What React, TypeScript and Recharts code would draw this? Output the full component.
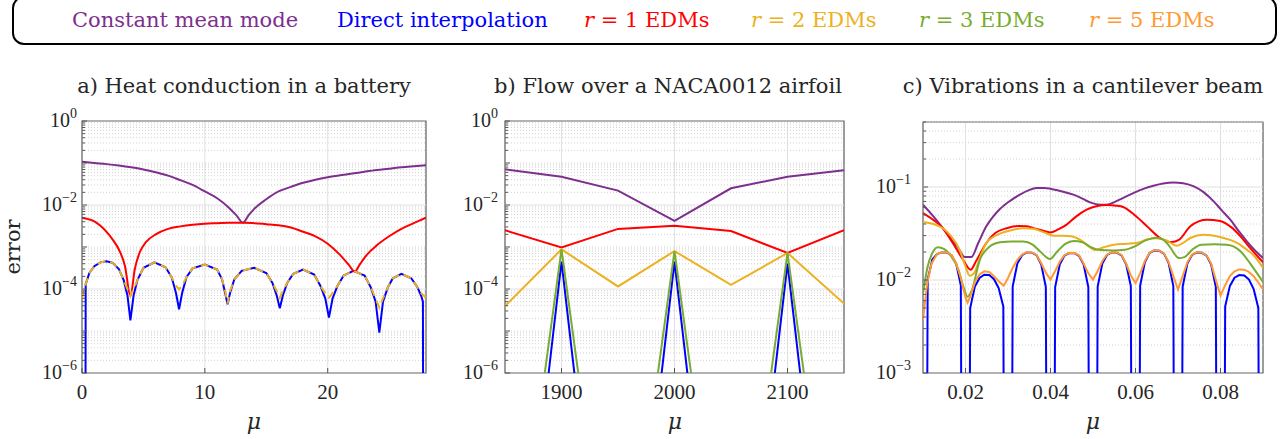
import React from 'react';
import {
  CartesianGrid,
  Line,
  LineChart,
  ReferenceArea,
  ReferenceLine,
  XAxis,
  YAxis,
} from 'recharts';

type Pt = [number, number];

// colours (MATLAB-ish palette)
const C_CONST = '#7E2F8E';
const C_DIRECT = '#0000FF';
const C_R1 = '#FF0000';
const C_R2 = '#EDB120';
const C_R3 = '#77AC30';
const C_R5 = '#FF9933';
const INK = '#262626';
const TICK_FONT = "'Liberation Serif', 'Times New Roman', serif";
const TEXT_FONT = "'DejaVu Serif', 'Liberation Serif', serif";

// ---------- a) heat conduction in a battery ----------
const batteryTicksX = [0, 10, 20];
const batteryTicksY = [1e-6, 1e-4, 1e-2, 1];

const batteryConstMean: Pt[] = [
  [0, 0.107], [1, 0.1], [2, 0.094], [3, 0.087], [4, 0.079], [5, 0.07], [6, 0.06], [7, 0.05],
  [8, 0.039], [9, 0.03], [10, 0.021], [11, 0.0145], [12, 0.0084], [12.6, 0.0055], [13.1, 0.0038],
  [13.6, 0.0059], [14, 0.008], [15, 0.0137], [16, 0.021], [17, 0.027], [18, 0.034], [19, 0.04],
  [20, 0.046], [21, 0.051], [22, 0.056], [23, 0.062], [24, 0.068], [25, 0.073], [26, 0.079],
  [27, 0.084], [28, 0.089],
];

const batteryR1: Pt[] = [
  [0, 0.005], [0.5, 0.0046], [1, 0.0041], [1.5, 0.0032], [2, 0.0023], [2.5, 0.0015], [3, 0.00087],
  [3.5, 0.00035], [3.94, 0.000068], [4.3, 0.0003], [4.7, 0.00075], [5.2, 0.0013], [6, 0.002],
  [7, 0.0027], [8, 0.0031], [9, 0.0034], [10, 0.0036], [11, 0.0037], [12, 0.0038], [13.1, 0.0038],
  [14, 0.0037], [15, 0.0035], [16, 0.0033], [17, 0.0029], [18, 0.0023], [19, 0.0018], [20, 0.0012],
  [21, 0.00065], [21.7, 0.00038], [22.2, 0.00026], [22.6, 0.00038], [23.2, 0.00066], [24, 0.0011],
  [25, 0.0018], [26, 0.0027], [27, 0.0037], [28, 0.005],
];

const batteryDirect: Pt[] = [
  [0, 1e-12], [0.26, 1e-12], [0.3, 0.00013], [0.6, 0.00024], [1, 0.00035], [1.5, 0.00043],
  [2, 0.00046], [2.5, 0.00042], [3, 0.0003], [3.4, 0.00016], [3.7, 0.00007], [3.94, 0.000018],
  [4.2, 0.00007], [4.5, 0.00016], [5, 0.00032], [5.9, 0.00043], [6.8, 0.00033], [7.3, 0.00019],
  [7.65, 0.00008], [7.9, 0.000033], [8.15, 0.00008], [8.5, 0.00019], [9, 0.00031], [10, 0.00038],
  [11, 0.00029], [11.4, 0.00017], [11.65, 0.00008], [11.85, 0.000043], [12.05, 0.00008],
  [12.4, 0.00017], [13, 0.00027], [14, 0.00032], [15, 0.00024], [15.5, 0.00014], [15.85, 0.00007],
  [16.1, 0.000035], [16.35, 0.00007], [16.7, 0.00014], [17.2, 0.00023], [18, 0.00029],
  [18.9, 0.00022], [19.4, 0.00012], [19.8, 0.00006], [20.1, 0.000021], [20.4, 0.00006],
  [20.8, 0.00012], [21.3, 0.00021], [22.1, 0.00027], [23, 0.00021], [23.5, 0.00011],
  [23.9, 0.00005], [24.2, 0.0000092], [24.5, 0.00005], [24.9, 0.00011], [25.3, 0.00018],
  [26, 0.00023], [26.8, 0.00018], [27.3, 0.00011], [27.6, 0.00007], [27.75, 0.00005],
  [27.8, 1e-12], [28, 1e-12],
];

const batteryR2: Pt[] = [
  [0, 0.00006], [0.3, 0.00013], [0.6, 0.00024], [1, 0.00035], [1.5, 0.00043], [2, 0.00046],
  [2.5, 0.00042], [3, 0.0003], [3.4, 0.00016], [3.7, 0.0001], [3.94, 0.000068], [4.2, 0.0001],
  [4.5, 0.00016], [5, 0.00032], [5.9, 0.00043], [6.8, 0.00033], [7.3, 0.00019], [7.65, 0.00012],
  [7.9, 0.000098], [8.15, 0.00012], [8.5, 0.00019], [9, 0.00031], [10, 0.00038], [11, 0.00029],
  [11.4, 0.00017], [11.65, 0.00009], [11.85, 0.000045], [12.05, 0.00009], [12.4, 0.00017],
  [13, 0.00027], [14, 0.00032], [15, 0.00024], [15.5, 0.00014], [15.85, 0.00009], [16.1, 0.000062],
  [16.35, 0.00009], [16.7, 0.00014], [17.2, 0.00023], [18, 0.00029], [18.9, 0.00022],
  [19.4, 0.00012], [19.8, 0.00008], [20.1, 0.000062], [20.4, 0.00008], [20.8, 0.00012],
  [21.3, 0.00021], [22.1, 0.00027], [23, 0.00021], [23.5, 0.00011], [23.9, 0.00006],
  [24.2, 0.000036], [24.5, 0.00006], [24.9, 0.00011], [25.3, 0.00018], [26, 0.00023],
  [26.8, 0.00018], [27.3, 0.00011], [27.6, 0.00008], [28, 0.000062],
];

// ---------- b) flow over a NACA0012 airfoil ----------
const airfoilTicksX = [1900, 2000, 2100];
const airfoilTicksY = [1e-6, 1e-4, 1e-2, 1];
const airfoilMu = [1850, 1900, 1950, 2000, 2050, 2100, 2150];
const airfoilConstMean = [0.071, 0.047, 0.022, 0.0042, 0.025, 0.047, 0.067];
const airfoilDirect = [1e-15, 4.5e-4, 1e-15, 4.5e-4, 1e-15, 4e-4, 1e-15];
const airfoilR1 = [0.0025, 0.00098, 0.0027, 0.0032, 0.0024, 0.00072, 0.0025];
const airfoilR2 = [0.000039, 0.00088, 0.000115, 0.0008, 0.000125, 0.00072, 0.000045];
const airfoilR3 = [1e-13, 0.00088, 1e-13, 0.0008, 1e-13, 0.00072, 1e-13];

// ---------- c) vibrations in a cantilever beam ----------
const beamTicksX = [0.02, 0.04, 0.06, 0.08];
const beamTicksY = [1e-3, 1e-2, 1e-1];

const beamConstMean: Pt[] = [
  [0.01, 0.0645], [0.0125, 0.048], [0.0147, 0.036], [0.0165, 0.028], [0.0183, 0.022],
  [0.0198, 0.0177], [0.0214, 0.0177], [0.023, 0.025], [0.0249, 0.0378], [0.0265, 0.048],
  [0.0281, 0.058], [0.0305, 0.071], [0.0328, 0.0827], [0.0348, 0.092], [0.0367, 0.0975],
  [0.0385, 0.0975], [0.0399, 0.096], [0.0425, 0.09], [0.0454, 0.0827], [0.0475, 0.075],
  [0.0493, 0.0684], [0.0517, 0.0645], [0.053, 0.0645], [0.0548, 0.068], [0.057, 0.076],
  [0.0595, 0.086], [0.062, 0.096], [0.0642, 0.103], [0.0665, 0.109], [0.0689, 0.112],
  [0.0712, 0.11], [0.0736, 0.102], [0.076, 0.088], [0.0784, 0.07], [0.0803, 0.056],
  [0.0823, 0.0445], [0.0842, 0.034], [0.0862, 0.026], [0.088, 0.021], [0.09, 0.0172],
];

const beamDirect: Pt[] = [
  [0.01, 1e-15],
  [0.0111, 0.0101], [0.0122, 0.0166], [0.0133, 0.019], [0.0144, 0.0198], [0.0156, 0.0197],
  [0.0167, 0.0185], [0.0178, 0.015], [0.0189, 0.0088],
  [0.02, 1e-15],
  [0.0211, 0.005], [0.0222, 0.0085], [0.0233, 0.0105], [0.0244, 0.0114], [0.0256, 0.0113],
  [0.0267, 0.0102], [0.0278, 0.0082], [0.0289, 0.0052],
  [0.03, 1e-15],
  [0.0311, 0.0085], [0.0322, 0.015], [0.0333, 0.0185], [0.0344, 0.0198], [0.0356, 0.0197],
  [0.0367, 0.0185], [0.0378, 0.0148], [0.0389, 0.0084],
  [0.04, 1e-15],
  [0.0411, 0.0084], [0.0422, 0.0148], [0.0433, 0.0183], [0.0444, 0.0195], [0.0456, 0.0194],
  [0.0467, 0.0182], [0.0478, 0.0147], [0.0489, 0.0084],
  [0.05, 1e-15],
  [0.0511, 0.0085], [0.0522, 0.015], [0.0533, 0.0186], [0.0544, 0.0198], [0.0556, 0.0197],
  [0.0567, 0.0184], [0.0578, 0.0148], [0.0589, 0.0086],
  [0.06, 1e-15],
  [0.0611, 0.0087], [0.0622, 0.0155], [0.0633, 0.0195], [0.0644, 0.0208], [0.0656, 0.0206],
  [0.0667, 0.0192], [0.0678, 0.0152], [0.0689, 0.0086],
  [0.07, 1e-15],
  [0.0711, 0.0085], [0.0722, 0.015], [0.0733, 0.0186], [0.0744, 0.0198], [0.0756, 0.0196],
  [0.0767, 0.0183], [0.0778, 0.0147], [0.0789, 0.0084],
  [0.08, 1e-15],
  [0.0811, 0.0052], [0.0822, 0.0086], [0.0833, 0.0106], [0.0844, 0.0113], [0.0856, 0.0112],
  [0.0867, 0.0101], [0.0878, 0.008], [0.0889, 0.005],
  [0.09, 1e-15],
];

const beamR1: Pt[] = [
  [0.01, 0.0525], [0.0125, 0.044], [0.0147, 0.036], [0.017, 0.025], [0.0194, 0.0166],
  [0.0212, 0.0129], [0.0225, 0.016], [0.0249, 0.025], [0.027, 0.032], [0.0297, 0.036],
  [0.0325, 0.038], [0.0344, 0.0378], [0.0365, 0.0355], [0.0381, 0.034], [0.0399, 0.0325],
  [0.0418, 0.035], [0.0438, 0.0394], [0.046, 0.048], [0.0485, 0.057], [0.051, 0.0625],
  [0.0532, 0.064], [0.0555, 0.063], [0.0571, 0.061], [0.06, 0.049], [0.0627, 0.0378],
  [0.0658, 0.0283], [0.0685, 0.0256], [0.0702, 0.027], [0.0729, 0.0378], [0.075, 0.043],
  [0.0768, 0.0445], [0.0799, 0.043], [0.0825, 0.037], [0.0847, 0.0295], [0.087, 0.022],
  [0.09, 0.0155],
];

const beamR2: Pt[] = [
  [0.01, 0.042], [0.0125, 0.04], [0.0147, 0.036], [0.0165, 0.03], [0.0186, 0.0212],
  [0.02, 0.014], [0.021, 0.0111], [0.022, 0.0118], [0.0235, 0.018], [0.0249, 0.025],
  [0.0265, 0.029], [0.0281, 0.0315], [0.031, 0.0345], [0.0336, 0.036], [0.036, 0.0355],
  [0.0385, 0.0325], [0.0407, 0.03], [0.043, 0.03], [0.0449, 0.0296], [0.047, 0.027],
  [0.049, 0.023], [0.0505, 0.021], [0.0525, 0.0225], [0.055, 0.024], [0.058, 0.0245],
  [0.0605, 0.0252], [0.0627, 0.0272], [0.065, 0.0282], [0.0672, 0.0268], [0.0697, 0.0234],
  [0.0712, 0.025], [0.0729, 0.0283], [0.076, 0.0307], [0.0799, 0.029], [0.0839, 0.025],
  [0.086, 0.0215], [0.088, 0.018], [0.09, 0.0135],
];

const beamR3: Pt[] = [
  [0.01, 0.0072], [0.0111, 0.014], [0.0122, 0.0195], [0.0135, 0.0225], [0.015, 0.0215],
  [0.0167, 0.0178], [0.0183, 0.013], [0.0195, 0.0085], [0.0205, 0.0066], [0.0215, 0.0078],
  [0.0234, 0.0166], [0.0255, 0.0225], [0.0281, 0.0254], [0.031, 0.026], [0.0336, 0.026],
  [0.0358, 0.024], [0.0375, 0.0204], [0.0399, 0.0168], [0.0415, 0.02], [0.0435, 0.0245],
  [0.0455, 0.0262], [0.0475, 0.0255], [0.0495, 0.0225], [0.0517, 0.021], [0.0548, 0.0208],
  [0.0575, 0.0212], [0.06, 0.0232], [0.0625, 0.0268], [0.0648, 0.0285], [0.0665, 0.0272],
  [0.068, 0.023], [0.0702, 0.0172], [0.0715, 0.0176], [0.0735, 0.0215], [0.0755, 0.024],
  [0.0785, 0.0243], [0.0815, 0.024], [0.0847, 0.0204], [0.087, 0.015], [0.09, 0.0095],
];

const beamR5: Pt[] = [
  [0.01, 0.0037], [0.011, 0.0093], [0.012, 0.015], [0.0133, 0.019], [0.0144, 0.0199],
  [0.0156, 0.0198], [0.0167, 0.0186], [0.0178, 0.0152], [0.0189, 0.0105], [0.02, 0.0065],
  [0.0205, 0.0057], [0.0211, 0.0066], [0.0222, 0.0095], [0.0233, 0.0115], [0.0244, 0.0124],
  [0.0256, 0.0122], [0.0267, 0.011], [0.0278, 0.0097], [0.029, 0.0087], [0.03, 0.0105],
  [0.0311, 0.0135], [0.0322, 0.0165], [0.0333, 0.0188], [0.0344, 0.0199], [0.0356, 0.0198],
  [0.0367, 0.0186], [0.0378, 0.0152], [0.0389, 0.012], [0.04, 0.0101], [0.0411, 0.0125],
  [0.0422, 0.0158], [0.0433, 0.0185], [0.0444, 0.0196], [0.0456, 0.0195], [0.0467, 0.0184],
  [0.0478, 0.015], [0.0489, 0.0118], [0.05, 0.0101], [0.0511, 0.0125], [0.0522, 0.016],
  [0.0533, 0.0188], [0.0544, 0.0199], [0.0556, 0.0198], [0.0567, 0.0186], [0.0578, 0.015],
  [0.0589, 0.0112], [0.06, 0.0093], [0.0611, 0.0118], [0.0622, 0.016], [0.0633, 0.0196],
  [0.0644, 0.0209], [0.0656, 0.0207], [0.0667, 0.0193], [0.0678, 0.0155], [0.0689, 0.011],
  [0.07, 0.0079], [0.0711, 0.011], [0.0722, 0.0155], [0.0733, 0.0188], [0.0744, 0.0199],
  [0.0756, 0.0197], [0.0767, 0.0184], [0.0778, 0.015], [0.0789, 0.01], [0.08, 0.0068],
  [0.0811, 0.0088], [0.0822, 0.011], [0.0833, 0.0124], [0.0844, 0.013], [0.0856, 0.0129],
  [0.0867, 0.0122], [0.0878, 0.011], [0.0889, 0.0094], [0.09, 0.0079],
];

const legendItems = [
  { label: 'Constant mean mode', color: C_CONST, x: 72 },
  { label: 'Direct interpolation', color: C_DIRECT, x: 337 },
  { label: '1', color: C_R1, x: 584 },
  { label: '2', color: C_R2, x: 751 },
  { label: '3', color: C_R3, x: 919 },
  { label: '5', color: C_R5, x: 1089 },
];

const toPts = (arr: Pt[]) => arr.map(([x, y]) => ({ x, y }));

const isDecade = (v: number) => Math.abs(Math.log10(v) - Math.round(Math.log10(v))) < 1e-9;

// minor log grid: 2..9 of every decade, plus decades that carry no label
const minorLog = (lo: number, hi: number, majors: number[], top: number) => {
  const out: number[] = [];
  for (let e = lo; e < hi; e++) {
    const d = Math.pow(10, e);
    if (e > lo && !majors.some((m) => Math.abs(m - d) / d < 1e-9)) out.push(d);
    for (let k = 2; k <= 9; k++) if (k * d <= top * 1.0001) out.push(k * d);
  }
  return out;
};

const allLogTicks = (majors: number[], minors: number[]) => [...majors, ...minors].sort((a, b) => a - b);

const makeYTick = (labels: number[], side: 'left' | 'right', gap = 5) => (props: any) => {
  const { x, y, payload } = props;
  const v = payload.value;
  const labelled = labels.some((m) => Math.abs(m - v) / v < 1e-9);
  const len = isDecade(v) ? 5 : 3;
  const dir = side === 'left' ? 1 : -1;
  const e = Math.round(Math.log10(v));
  const exp = e < 0 ? `\u2212${-e}` : `${e}`;
  return (
    <g>
      <line x1={x} x2={x + dir * len} y1={y} y2={y} stroke="#555" strokeWidth={1} />
      {side === 'left' && labelled && (
        <text x={x - gap} y={y + 6} textAnchor="end" style={{ fontFamily: TICK_FONT }} fill={INK}>
          <tspan fontSize={20}>10</tspan>
          <tspan fontSize={14} dy={-9}>{exp}</tspan>
        </text>
      )}
    </g>
  );
};

const makeXTick = (side: 'bottom' | 'top') => (props: any) => {
  const { x, y, payload } = props;
  const dir = side === 'bottom' ? -1 : 1;
  return (
    <g>
      <line x1={x} x2={x} y1={y} y2={y + dir * 5} stroke="#555" strokeWidth={1} />
      {side === 'bottom' && (
        <text x={x} y={y + 26} textAnchor="middle" style={{ fontFamily: TICK_FONT }} fontSize={21} fill={INK}>
          {payload.value}
        </text>
      )}
    </g>
  );
};

const gridLines = (major: number[], minor: number[]) => [
  ...minor.map((v) => (
    <ReferenceLine key={`m${v}`} y={v} stroke="#d2d2d2" strokeDasharray="1 2" strokeWidth={1} />
  )),
  ...major.map((v) => <ReferenceLine key={`M${v}`} y={v} stroke="#e0e0e0" strokeWidth={1} />),
];

const axisProps = { axisLine: false, tickLine: false, tickSize: 0, tickMargin: 0, interval: 0 as const };

const batteryMinor = minorLog(-6, 0, batteryTicksY, 1);
const airfoilMinor = minorLog(-6, 0, airfoilTicksY, 1);
const beamMinor = minorLog(-3, 0, beamTicksY, 0.5);

export default function App() {
  const airfoilRows = airfoilMu.map((mu, i) => ({
    mu,
    constMean: airfoilConstMean[i],
    direct: airfoilDirect[i],
    r1: airfoilR1[i],
    r2: airfoilR2[i],
    r3: airfoilR3[i],
  }));

  return (
    <div style={{ position: 'absolute', left: 0, top: 0, width: 1286, height: 439, background: '#fff' }}>
      {/* a) */}
      <div style={{ position: 'absolute', left: 0, top: 100 }}>
        <LineChart width={440} height={339} margin={{ top: 21, right: 14, bottom: 0, left: 0 }}>
          <CartesianGrid stroke="#e0e0e0" horizontal={false} />
          <XAxis type="number" dataKey="x" domain={[0, 28]} ticks={batteryTicksX} allowDataOverflow height={66} tick={makeXTick('bottom')} {...axisProps} />
          <XAxis xAxisId="top" orientation="top" type="number" domain={[0, 28]} ticks={batteryTicksX} height={0} tick={makeXTick('top')} {...axisProps} />
          <YAxis scale="log" domain={[1e-6, 1]} ticks={allLogTicks(batteryTicksY, batteryMinor)} allowDataOverflow width={82} tick={makeYTick(batteryTicksY, 'left', 5)} {...axisProps} />
          <YAxis yAxisId="right" orientation="right" scale="log" domain={[1e-6, 1]} ticks={allLogTicks(batteryTicksY, batteryMinor)} width={0} tick={makeYTick(batteryTicksY, 'right')} {...axisProps} />
          {gridLines(batteryTicksY.slice(1, -1), batteryMinor)}
          <Line data={toPts(batteryConstMean)} dataKey="y" type="monotone" stroke={C_CONST} strokeWidth={2} dot={false} isAnimationActive={false} />
          <Line data={toPts(batteryDirect)} dataKey="y" type="linear" stroke={C_DIRECT} strokeWidth={2} dot={false} isAnimationActive={false} />
          <Line data={toPts(batteryR1)} dataKey="y" type="monotone" stroke={C_R1} strokeWidth={2} dot={false} isAnimationActive={false} />
          <Line data={toPts(batteryR2)} dataKey="y" type="linear" stroke={C_R2} strokeWidth={2} strokeDasharray="8 5" dot={false} isAnimationActive={false} />
          <ReferenceArea x1={0} x2={28} y1={1e-6} y2={1} fill="none" stroke="#666" strokeWidth={1.2} ifOverflow="visible" />
        </LineChart>
      </div>

      {/* b) */}
      <div style={{ position: 'absolute', left: 440, top: 100 }}>
        <LineChart width={420} height={339} data={airfoilRows} margin={{ top: 21, right: 16, bottom: 0, left: 0 }}>
          <CartesianGrid stroke="#e0e0e0" horizontal={false} />
          <XAxis type="number" dataKey="mu" domain={[1850, 2150]} ticks={airfoilTicksX} allowDataOverflow height={66} tick={makeXTick('bottom')} {...axisProps} />
          <XAxis xAxisId="top" orientation="top" type="number" domain={[1850, 2150]} ticks={airfoilTicksX} height={0} tick={makeXTick('top')} {...axisProps} />
          <YAxis scale="log" domain={[1e-6, 1]} ticks={allLogTicks(airfoilTicksY, airfoilMinor)} allowDataOverflow width={65} tick={makeYTick(airfoilTicksY, 'left', 7)} {...axisProps} />
          <YAxis yAxisId="right" orientation="right" scale="log" domain={[1e-6, 1]} ticks={allLogTicks(airfoilTicksY, airfoilMinor)} width={0} tick={makeYTick(airfoilTicksY, 'right')} {...axisProps} />
          {gridLines(airfoilTicksY.slice(1, -1), airfoilMinor)}
          <Line dataKey="constMean" type="linear" stroke={C_CONST} strokeWidth={2} dot={false} isAnimationActive={false} />
          <Line dataKey="direct" type="linear" stroke={C_DIRECT} strokeWidth={2} dot={false} isAnimationActive={false} />
          <Line dataKey="r1" type="linear" stroke={C_R1} strokeWidth={2} dot={false} isAnimationActive={false} />
          <Line dataKey="r2" type="linear" stroke={C_R2} strokeWidth={2} dot={false} isAnimationActive={false} />
          <Line dataKey="r3" type="linear" stroke={C_R3} strokeWidth={2} dot={false} isAnimationActive={false} />
          <ReferenceArea x1={1850} x2={2150} y1={1e-6} y2={1} fill="none" stroke="#666" strokeWidth={1.2} ifOverflow="visible" />
        </LineChart>
      </div>

      {/* c) */}
      <div style={{ position: 'absolute', left: 860, top: 100 }}>
        <LineChart width={426} height={339} margin={{ top: 22, right: 23, bottom: 0, left: 0 }}>
          <CartesianGrid stroke="#e0e0e0" horizontal={false} />
          <XAxis type="number" dataKey="x" domain={[0.01, 0.09]} ticks={beamTicksX} allowDataOverflow height={66} tick={makeXTick('bottom')} {...axisProps} />
          <XAxis xAxisId="top" orientation="top" type="number" domain={[0.01, 0.09]} ticks={beamTicksX} height={0} tick={makeXTick('top')} {...axisProps} />
          <YAxis scale="log" domain={[1e-3, 0.5]} ticks={allLogTicks(beamTicksY, beamMinor)} allowDataOverflow width={63} tick={makeYTick(beamTicksY, 'left', 12)} {...axisProps} />
          <YAxis yAxisId="right" orientation="right" scale="log" domain={[1e-3, 0.5]} ticks={allLogTicks(beamTicksY, beamMinor)} width={0} tick={makeYTick(beamTicksY, 'right')} {...axisProps} />
          {gridLines(beamTicksY.slice(1), beamMinor)}
          <Line data={toPts(beamConstMean)} dataKey="y" type="monotone" stroke={C_CONST} strokeWidth={2} dot={false} isAnimationActive={false} />
          <Line data={toPts(beamDirect)} dataKey="y" type="linear" stroke={C_DIRECT} strokeWidth={2} dot={false} isAnimationActive={false} />
          <Line data={toPts(beamR1)} dataKey="y" type="monotone" stroke={C_R1} strokeWidth={2} dot={false} isAnimationActive={false} />
          <Line data={toPts(beamR2)} dataKey="y" type="monotone" stroke={C_R2} strokeWidth={2} dot={false} isAnimationActive={false} />
          <Line data={toPts(beamR3)} dataKey="y" type="monotone" stroke={C_R3} strokeWidth={2} dot={false} isAnimationActive={false} />
          <Line data={toPts(beamR5)} dataKey="y" type="linear" stroke={C_R5} strokeWidth={2} dot={false} isAnimationActive={false} />
          <ReferenceArea x1={0.01} x2={0.09} y1={1e-3} y2={0.5} fill="none" stroke="#666" strokeWidth={1.2} ifOverflow="visible" />
        </LineChart>
      </div>

      {/* legend, titles and axis labels */}
      <svg width={1286} height={439} style={{ position: 'absolute', left: 0, top: 0, pointerEvents: 'none' }}>
        <rect x={13} y={-3} width={1263} height={47} rx={11} ry={11} fill="none" stroke="#000" strokeWidth={2} />
        {legendItems.map((it, i) => (
          <text key={it.label} x={it.x} y={27} style={{ fontFamily: TEXT_FONT }} fontSize={21} fill={it.color}>
            {i < 2 ? (
              it.label
            ) : (
              <>
                <tspan fontStyle="italic">r</tspan>
                <tspan>{` = ${it.label} EDMs`}</tspan>
              </>
            )}
          </text>
        ))}
        <g style={{ fontFamily: TEXT_FONT }} fontSize={21} fill={INK} textAnchor="middle">
          <text x={244} y={93}>a) Heat conduction in a battery</text>
          <text x={668} y={93}>b) Flow over a NACA0012 airfoil</text>
          <text x={1083} y={93}>c) Vibrations in a cantilever beam</text>
          <text x={254} y={429} fontSize={22} fontStyle="italic">μ</text>
          <text x={675} y={429} fontSize={22} fontStyle="italic">μ</text>
          <text x={1093} y={429} fontSize={22} fontStyle="italic">μ</text>
          <text x={20} y={247} transform="rotate(-90 20 247)">error</text>
        </g>
      </svg>
    </div>
  );
}
